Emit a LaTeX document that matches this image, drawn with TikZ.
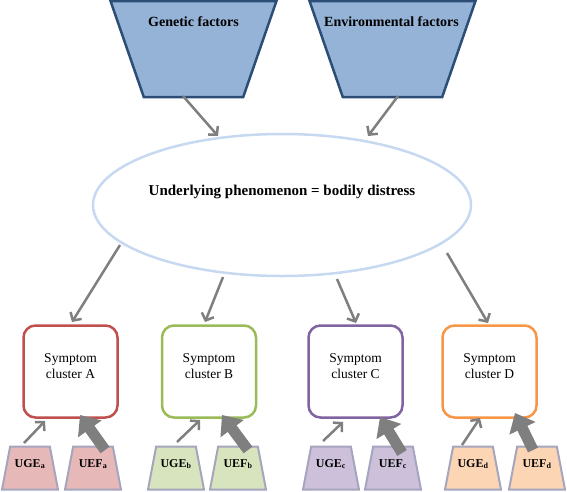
\documentclass[tikz,border=0pt]{standalone}
\usepackage{fontspec}
\setmainfont{Liberation Serif}
\usetikzlibrary{shapes.geometric,arrows.meta}
\definecolor{topfill}{RGB}{149,179,215}
\definecolor{topdraw}{RGB}{44,77,118}
\definecolor{ellcol}{RGB}{198,217,241}
\definecolor{arrcol}{RGB}{127,127,127}
\definecolor{colA}{RGB}{192,80,77}
\definecolor{colB}{RGB}{155,187,89}
\definecolor{colC}{RGB}{128,100,162}
\definecolor{colD}{RGB}{247,150,70}
\definecolor{fillA}{RGB}{230,184,183}
\definecolor{fillB}{RGB}{215,228,189}
\definecolor{fillC}{RGB}{204,192,218}
\definecolor{fillD}{RGB}{252,213,181}
\definecolor{smalldraw}{RGB}{165,165,190}
\begin{document}
\begin{tikzpicture}[x=1pt,y=-1pt,
  factor/.style={trapezium, shape border rotate=180, trapezium stretches=true,
    trapezium angle=71.5, minimum width=166pt, minimum height=96pt,
    fill=topfill, draw=topdraw, line width=2.5pt, inner sep=2pt},
  toplabel/.style={font=\fontsize{14}{16}\selectfont\bfseries},
  phen/.style={ellipse, draw=ellcol, line width=2.5pt, minimum width=378pt,
    minimum height=142pt, inner sep=0pt},
  cluster/.style={draw, rounded corners=12pt, line width=2.5pt, fill=white,
    minimum width=94pt, minimum height=92pt, inner sep=0pt},
  clabel/.style={font=\fontsize{13.5}{16}\selectfont, align=center},
  small/.style={trapezium, trapezium stretches=true, trapezium angle=78.4,
    minimum width=56pt, minimum height=43pt, draw=smalldraw, line width=2pt, inner sep=2pt},
  slabel/.style={font=\fontsize{12}{13}\selectfont\bfseries},
  thinarr/.style={draw=arrcol, line width=2.5pt, -{Straight Barb[length=6pt,width=13pt]}},
  thickarr/.style={draw=arrcol, line width=11pt, -{Triangle[width=28pt,length=17pt]}, fill=arrcol},
]
\useasboundingbox (0,0) rectangle (567,491);

% top factors
\node[factor] (gen) at (193.5,49) {};
\node[factor] (env) at (392.5,49) {};
\node[toplabel] (gentext) at (193.5,22) {Genetic factors};
\node[toplabel] (envtext) at (391.5,22) {Environmental factors};

% ellipse
\node[phen] (ell) at (282,205) {};
\node[toplabel, font=\fontsize{15}{17}\selectfont\bfseries] (elltext) at (282,192) {Underlying phenomenon = bodily distress};

% clusters
\node[cluster, draw=colA] (ca) at (70.5,371.5) {};
\node[cluster, draw=colB] (cb) at (209,371.5) {};
\node[cluster, draw=colC] (cc) at (355.5,371.5) {};
\node[cluster, draw=colD] (cd) at (489.5,371.5) {};
\node[clabel] (ta) at (70.5,366) {Symptom\\cluster A};
\node[clabel] (tb) at (209,366) {Symptom\\cluster B};
\node[clabel] (tc) at (355.5,366) {Symptom\\cluster C};
\node[clabel] (td) at (489.5,366) {Symptom\\cluster D};

% small trapezia
\node[small, fill=fillA] (ugea) at (30,468) {};
\node[small, fill=fillA] (uefa) at (93,468) {};
\node[small, fill=fillB] (ugeb) at (176,468) {};
\node[small, fill=fillB] (uefb) at (238,468) {};
\node[small, fill=fillC] (ugec) at (331,468) {};
\node[small, fill=fillC] (uefc) at (393,468) {};
\node[small, fill=fillD] (uged) at (473,468) {};
\node[small, fill=fillD] (uefd) at (537,468) {};

% arrows top -> ellipse
\draw[thinarr] ([shift={(-10.5,47)}]gen.center) -- ([shift={(-64,-69)}]ell.center);
\draw[thinarr] ([shift={(5.5,47)}]env.center) -- ([shift={(86,-69)}]ell.center);

% ellipse -> clusters
\draw[thinarr] ([shift={(-162,40)}]ell.center) -- ([shift={(1.5,-49.5)}]ca.center);
\draw[thinarr] ([shift={(-59,72)}]ell.center) -- ([shift={(-4,-49.5)}]cb.center);
\draw[thinarr] ([shift={(55,74)}]ell.center) -- ([shift={(0.5,-48.5)}]cc.center);
\draw[thinarr] ([shift={(165,48)}]ell.center) -- ([shift={(-1.5,-48.5)}]cd.center);

% UGE -> clusters
\draw[thinarr] ([shift={(-6,-25)}]ugea.center) -- ([shift={(-25.5,49.5)}]ca.center);
\draw[thinarr] ([shift={(1,-26)}]ugeb.center) -- ([shift={(-9,48.5)}]cb.center);
\draw[thinarr] ([shift={(-8,-27)}]ugec.center) -- ([shift={(-12.5,50.5)}]cc.center);
\draw[thinarr] ([shift={(-11,-23)}]uged.center) -- ([shift={(-9.5,46.5)}]cd.center);

% UEF -> clusters (thick)
\draw[thickarr] ([shift={(12,-18)}]uefa.center) -- ([shift={(9.5,43.5)}]ca.center);
\draw[thickarr] ([shift={(10,-18)}]uefb.center) -- ([shift={(13,43.5)}]cb.center);
\draw[thickarr] ([shift={(9,-15)}]uefc.center) -- ([shift={(24.5,45.5)}]cc.center);
\draw[thickarr] ([shift={(-4,-18)}]uefd.center) -- ([shift={(25.5,41.5)}]cd.center);

% small labels
\node[slabel] (lugea) at (30,464) {UGE\textsubscript{a}};
\node[slabel] (luefa) at (93,464) {UEF\textsubscript{a}};
\node[slabel] (lugeb) at (176,464) {UGE\textsubscript{b}};
\node[slabel] (luefb) at (238,464) {UEF\textsubscript{b}};
\node[slabel] (lugec) at (331,464) {UGE\textsubscript{c}};
\node[slabel] (luefc) at (393,464) {UEF\textsubscript{c}};
\node[slabel] (luged) at (473,464) {UGE\textsubscript{d}};
\node[slabel] (luefd) at (537,464) {UEF\textsubscript{d}};
\end{tikzpicture}
\end{document}
